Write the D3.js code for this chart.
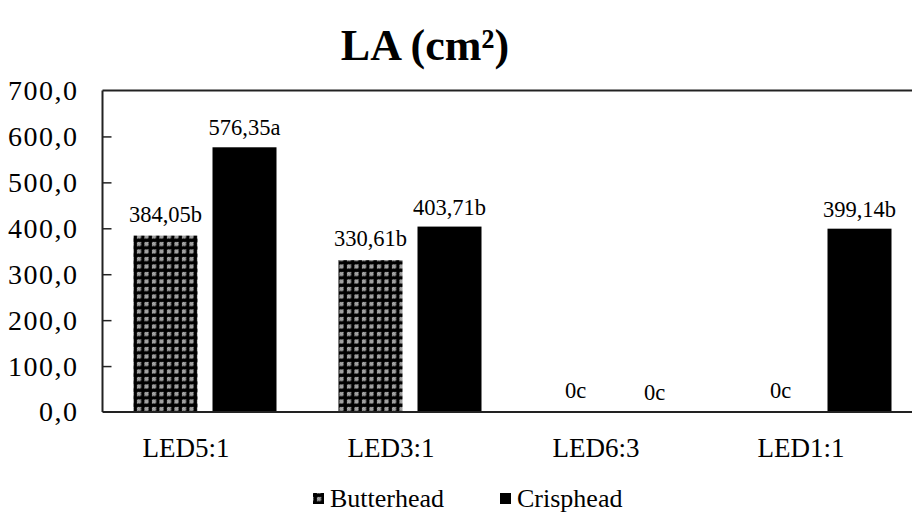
<!DOCTYPE html>
<html><head><meta charset="utf-8">
<script src="https://cdn.jsdelivr.net/npm/d3@7"></script>
<style>body{margin:0;background:#fff}svg{display:block}svg text{font-family:"Liberation Serif","Times New Roman",serif !important;fill:#000}</style>
</head><body><svg id="c" width="912" height="516"></svg>
<script>
const categories = ["LED5:1","LED3:1","LED6:3","LED1:1"];
const seriesNames = ["Butterhead","Crisphead"];
const butterhead = [384.05, 330.61, 0, 0];
const crisphead = [576.35, 403.71, 0, 399.14];
const butterLabels = ["384,05b","330,61b","0c","0c"];
const crispLabels = ["576,35a","403,71b","0c","399,14b"];
const yTicks = [0,100,200,300,400,500,600,700];

const FONT = '"Liberation Serif", "Times New Roman", serif';
const svg = d3.select("#c");
const defs = svg.append("defs");
const P = 7.5;
const pat = defs.append("pattern").attr("id","chk").attr("patternUnits","userSpaceOnUse")
  .attr("width",P).attr("height",P);
pat.append("rect").attr("width",P).attr("height",P).attr("fill","#000");
pat.append("rect").attr("x",2).attr("y",2).attr("width",4).attr("height",4).attr("fill","#666");
[[3,2],[2,3],[4,3],[3,4],[5,4],[4,5],[2,5],[5,2]].forEach(([x,y])=>{
  pat.append("rect").attr("x",x).attr("y",y).attr("width",1).attr("height",1).attr("fill","#e8e8e8");
});

const L=102.5, R=922.5, T=90.5, B=412;
const x = d3.scaleBand().domain(categories).range([L,R]).paddingInner(0).paddingOuter(0);
const y = d3.scaleLinear().domain([0,700]).range([B,T]);
const barW = 64, gap = 15;

// title
svg.append("text").attr("x",425).attr("y",60).attr("text-anchor","middle")
  .attr("font-weight","bold").attr("font-size",44).style("font-family",FONT).text("LA (cm²)");

// frame
svg.append("line").attr("x1",L).attr("x2",912).attr("y1",T).attr("y2",T).attr("stroke","#222").attr("stroke-width",2);

// bars
const data = categories.map((c,i)=>({c,b:butterhead[i],cr:crisphead[i],bl:butterLabels[i],cl:crispLabels[i]}));
const g = svg.append("g");
data.forEach(d=>{
  const cx = x(d.c)+x.bandwidth()/2;
  const xb = cx - gap/2 - barW, xc = cx + gap/2;
  if(d.b>0) g.append("rect").attr("x",xb).attr("y",y(d.b)).attr("width",barW).attr("height",y(0)-y(d.b)).attr("fill","url(#chk)");
  if(d.cr>0) g.append("rect").attr("x",xc).attr("y",y(d.cr)).attr("width",barW).attr("height",y(0)-y(d.cr)).attr("fill","#000");
  g.append("text").attr("x",xb+barW/2).attr("y",y(d.b)-14).attr("text-anchor","middle").attr("font-size",22.5).style("font-family",FONT).text(d.bl);
  g.append("text").attr("x",xc+barW/2).attr("y",y(d.cr)-12).attr("text-anchor","middle").attr("font-size",22.5).style("font-family",FONT).text(d.cl);
});

// y axis
const ya = svg.append("g").attr("transform",`translate(${L},0)`)
  .call(d3.axisLeft(y).tickValues(yTicks).tickSize(-9).tickPadding(24).tickFormat(v=>d3.format(".1f")(v).replace(".",",")));
ya.attr("font-family",null);
ya.select(".domain").attr("stroke","#222").attr("stroke-width",2).attr("d",`M0,${T}V${B}`);
ya.selectAll(".tick line").attr("stroke","#222").attr("stroke-width",1.5);
ya.selectAll(".tick").filter(d=>d===0||d===700).select("line").remove();
ya.selectAll(".tick text").attr("font-size",28).attr("letter-spacing",1.5).style("font-family",FONT).attr("fill","#000");

// x axis
const xa = svg.append("g").attr("transform",`translate(0,${B})`)
  .call(d3.axisBottom(x).tickSize(0).tickPadding(26));
xa.attr("font-family",null);
xa.select(".domain").attr("stroke","#222").attr("stroke-width",2).attr("d",`M${L},0H912`);
xa.selectAll(".tick text").attr("font-size",27).style("font-family",FONT).attr("fill","#000").attr("dx",-19).attr("dy","0.71em");

// legend
const leg = svg.append("g");
const legItems = [{n:seriesNames[0],f:"url(#chk)",x:313},{n:seriesNames[1],f:"#000",x:500}];
legItems.forEach(it=>{
  leg.append("rect").attr("x",it.x).attr("y",493).attr("width",11).attr("height",11).attr("fill",it.f);
  leg.append("text").attr("x",it.x+17).attr("y",507).attr("font-size",26).style("font-family",FONT).text(it.n);
});
</script></body></html>
